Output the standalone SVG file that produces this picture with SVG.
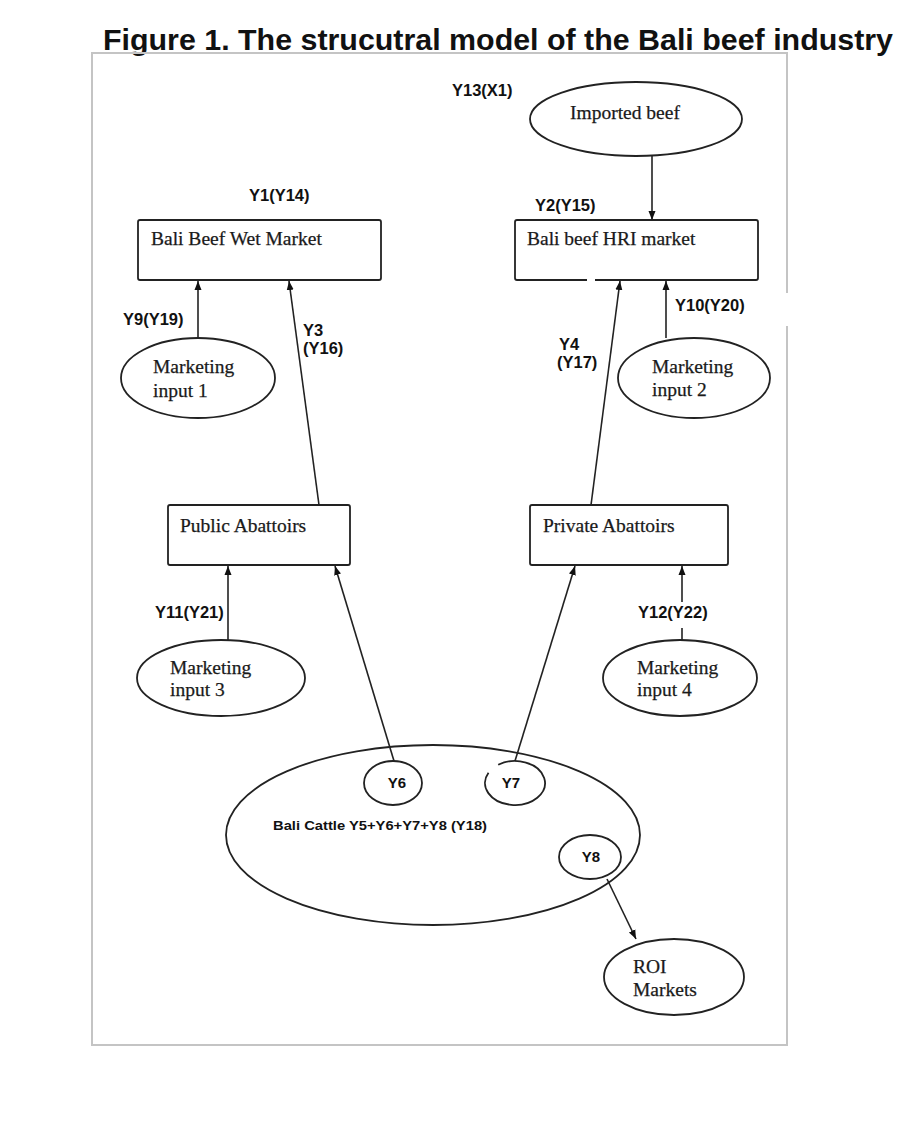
<svg xmlns="http://www.w3.org/2000/svg" width="900" height="1125" viewBox="0 0 900 1125">
<style>
.shape{fill:none;stroke:#222;stroke-width:1.8}
.serif{font-family:"Liberation Serif","Times New Roman",serif;font-size:19.5px;fill:#1a1a1a;stroke:#1a1a1a;stroke-width:0.25}
.lab{font-family:"Liberation Sans",Arial,sans-serif;font-size:16.5px;font-weight:bold;fill:#111}
.small{font-family:"Liberation Sans",Arial,sans-serif;font-size:15px;font-weight:bold;fill:#111}
.conn{fill:none;stroke:#222;stroke-width:1.6}
</style>
<defs>
<marker id="arr" markerUnits="userSpaceOnUse" markerWidth="10" markerHeight="10" viewBox="0 0 10 10" refX="9" refY="5" orient="auto">
<path d="M0,1.5 L9,5 L0,8.5 Z" fill="#111"/>
</marker>
</defs>
<rect width="900" height="1125" fill="#fff"/>
<text x="103" y="50" font-family="Liberation Sans,Arial,sans-serif" font-size="30" font-weight="bold" fill="#111" textLength="790" lengthAdjust="spacingAndGlyphs">Figure 1. The strucutral model of the Bali beef industry</text>
<path d="M787,326 V1045 H92 V53 H787 V293" fill="none" stroke="#c4c4c4" stroke-width="2"/>

<g id="imported-beef">
<ellipse class="shape" cx="636" cy="119" rx="106" ry="37"/>
<text class="serif" x="570" y="119">Imported beef</text>
<text class="lab" x="452" y="96">Y13(X1)</text>
</g>
<g id="wet-market">
<rect class="shape" x="138" y="220" width="243" height="60" rx="2"/>
<text class="serif" x="151" y="245">Bali Beef Wet Market</text>
<text class="lab" x="249" y="201">Y1(Y14)</text>
</g>
<g id="hri-market">
<path class="shape" d="M587,280 H517 Q515,280 515,278 V222 Q515,220 517,220 H756 Q758,220 758,222 V278 Q758,280 756,280 H595"/>
<text class="serif" x="527" y="245">Bali beef HRI market</text>
<text class="lab" x="535" y="211">Y2(Y15)</text>
</g>
<g id="marketing-input-1">
<ellipse class="shape" cx="198" cy="378" rx="77" ry="40"/>
<text class="serif" x="153" y="373">Marketing</text>
<text class="serif" x="153" y="397">input 1</text>
</g>
<g id="marketing-input-2">
<ellipse class="shape" cx="694" cy="378" rx="76" ry="40"/>
<text class="serif" x="652" y="373">Marketing</text>
<text class="serif" x="652" y="396">input 2</text>
</g>
<g id="public-abattoirs">
<rect class="shape" x="168" y="505" width="182" height="60" rx="2"/>
<text class="serif" x="180" y="532">Public Abattoirs</text>
</g>
<g id="private-abattoirs">
<rect class="shape" x="530" y="505" width="198" height="60" rx="2"/>
<text class="serif" x="543" y="532">Private Abattoirs</text>
</g>
<g id="marketing-input-3">
<ellipse class="shape" cx="221" cy="678" rx="84" ry="38"/>
<text class="serif" x="170" y="674">Marketing</text>
<text class="serif" x="170" y="696">input 3</text>
</g>
<g id="marketing-input-4">
<ellipse class="shape" cx="680" cy="678" rx="77" ry="38"/>
<text class="serif" x="637" y="674">Marketing</text>
<text class="serif" x="637" y="696">input 4</text>
</g>
<g id="bali-cattle">
<ellipse class="shape" cx="433" cy="835" rx="207" ry="90"/>
<text x="273" y="830" font-family="Liberation Sans,Arial,sans-serif" font-size="13.5" font-weight="bold" fill="#111" textLength="214" lengthAdjust="spacingAndGlyphs">Bali Cattle Y5+Y6+Y7+Y8 (Y18)</text>
</g>
<g id="y6">
<ellipse class="shape" cx="393" cy="783" rx="29" ry="22"/>
<text class="small" x="397" y="788" text-anchor="middle">Y6</text>
</g>
<g id="y7">
<path class="shape" d="M498.2,764.8 A30,22 0 1 1 488.5,772.7"/>
<text class="small" x="511" y="788" text-anchor="middle">Y7</text>
</g>
<g id="y8">
<ellipse class="shape" cx="590" cy="857" rx="31" ry="22"/>
<text class="small" x="591" y="862" text-anchor="middle">Y8</text>
</g>
<g id="roi-markets">
<ellipse class="shape" cx="674" cy="977" rx="70" ry="38"/>
<text class="serif" x="633" y="973">ROI</text>
<text class="serif" x="633" y="996">Markets</text>
</g>

<g id="connectors">
<line class="conn" x1="652" y1="156" x2="652" y2="220" marker-end="url(#arr)"/>
<line class="conn" x1="198" y1="338" x2="198" y2="281" marker-end="url(#arr)"/>
<line class="conn" x1="319" y1="505" x2="289" y2="281" marker-end="url(#arr)"/>
<line class="conn" x1="666" y1="338" x2="666" y2="281" marker-end="url(#arr)"/>
<line class="conn" x1="591" y1="505" x2="620" y2="281" marker-end="url(#arr)"/>
<line class="conn" x1="228" y1="640" x2="228" y2="566" marker-end="url(#arr)"/>
<line class="conn" x1="682" y1="602" x2="682" y2="566" marker-end="url(#arr)"/>
<line class="conn" x1="682" y1="628" x2="682" y2="640"/>
<line class="conn" x1="394" y1="761" x2="335" y2="566" marker-end="url(#arr)"/>
<line class="conn" x1="515" y1="761" x2="575" y2="566" marker-end="url(#arr)"/>
<line class="conn" x1="607" y1="879" x2="636" y2="939" marker-end="url(#arr)"/>
<text class="lab" x="123" y="325">Y9(Y19)</text>
<text class="lab" x="303" y="336">Y3</text>
<text class="lab" x="303" y="354">(Y16)</text>
<text class="lab" x="675" y="311">Y10(Y20)</text>
<text class="lab" x="559" y="350">Y4</text>
<text class="lab" x="557" y="368">(Y17)</text>
<text class="lab" x="155" y="618">Y11(Y21)</text>
<text class="lab" x="638" y="618">Y12(Y22)</text>
</g>
</svg>
